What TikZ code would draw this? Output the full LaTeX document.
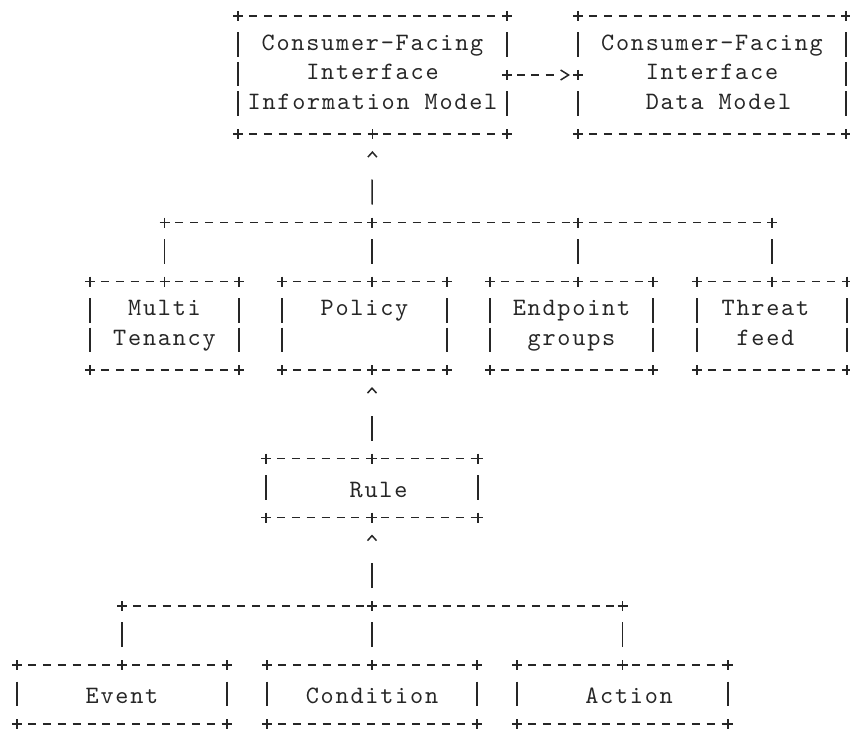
\documentclass[tikz,border=0pt]{standalone}
\usepackage{fontspec}
\usetikzlibrary{arrows.meta}
\newfontfamily\asciifont{lmmono10-regular.otf}[LetterSpace=7.1]
\newcommand{\rowstrut}{\rule[-5.75pt]{0pt}{29.5pt}}

\begin{document}
\begin{tikzpicture}[
    x=1pt, y=-1pt,
    box/.style={rectangle, inner sep=0pt, outer sep=0pt, align=center, text=black!85,
      font=\asciifont\fontsize{25pt}{29.5pt}\selectfont,
      execute at begin node=\rowstrut, execute at end node=\rowstrut},
    hdash/.style={draw=black!85, line width=1.5pt, dash pattern=on 8pt off 6.9pt, dash phase=4pt},
    vdash/.style={draw=black!85, line width=1.5pt, dash pattern=on 24.5pt off 5pt, dash phase=24.5pt,
      shorten <=11.5pt, shorten >=13.5pt},
    riser/.style={draw=black!85, line width=1.5pt, dash pattern=on 25pt off 80pt, dash phase=87pt},
    caret/.style={-{Straight Barb[length=5pt, width=9pt]}, shorten >=17pt},
    link/.style={draw=black!85, line width=1.5pt,
      dash pattern=on 8pt off 6.2pt on 8pt off 6.2pt on 8pt off 40pt, dash phase=66.2pt,
      -{Straight Barb[length=8pt, width=10pt]}, shorten >=8pt},
    plus/.pic={\draw[black!85, line width=1.5pt] (-5,0) -- (5,0) (0,-5) -- (0,5);}
]
\useasboundingbox (0,0) rectangle (850,733);

% Nodes
\node[box, minimum width=269pt, minimum height=118pt] (cfiim) at (372.5,75) {Consumer-Facing\\Interface\\Information Model};
\node[box, minimum width=268pt, minimum height=118pt] (cfidm) at (712,75) {Consumer-Facing\\Interface\\\hphantom{x}Data Model};
\node[box, minimum width=149pt, minimum height=88.5pt] (tenancy) at (164.5,325.75) {Multi\\Tenancy};
\node[box, minimum width=165pt, minimum height=88.5pt] (policy) at (364.5,325.75) {Policy\\\hphantom{x}};
\node[box, minimum width=163pt, minimum height=88.5pt] (endpoint) at (571.5,325.75) {Endpoint\\groups};
\node[box, minimum width=150pt, minimum height=88.5pt] (threat) at (772,325.75) {Threat\hphantom{x}\\feed\hphantom{x}};
\node[box, minimum width=212pt, minimum height=59pt] (rule) at (372,488) {\hphantom{x}Rule};
\node[box, minimum width=210pt, minimum height=59pt] (event) at (122,694.5) {Event};
\node[box, minimum width=210pt, minimum height=59pt] (condition) at (372,694.5) {Condition};
\node[box, minimum width=211pt, minimum height=59pt] (action) at (622.5,694.5) {\hphantom{x}Action};

% Bus junctions
\coordinate (bus1) at (372,222.5);
\coordinate (bus1w) at (tenancy.north |- bus1);
\coordinate (bus1c) at (578,222.5);
\coordinate (bus1e) at (threat.north |- bus1);
\coordinate (poltop) at (policy.north -| bus1);
\coordinate (polbot) at (policy.south -| bus1);
\coordinate (eptop) at (endpoint.north -| bus1c);
\coordinate (bus2) at (372,606);
\coordinate (bus2w) at (event.north |- bus2);
\coordinate (bus2e) at (action.north |- bus2);

% Box borders
\foreach \b in {cfiim,cfidm,tenancy,policy,endpoint,threat,rule,event,condition,action}{
  \draw[hdash] (\b.north west) -- (\b.north east);
  \draw[hdash] (\b.south west) -- (\b.south east);
}
\foreach \p/\q in {cfiim.north west/cfiim.south west, cfiim.north east/cfiim.east, cfiim.east/cfiim.south east,
    cfidm.north west/cfidm.west, cfidm.west/cfidm.south west, cfidm.north east/cfidm.south east,
    tenancy.north west/tenancy.south west, tenancy.north east/tenancy.south east,
    policy.north west/policy.south west, policy.north east/policy.south east,
    endpoint.north west/endpoint.south west, endpoint.north east/endpoint.south east,
    threat.north west/threat.south west, threat.north east/threat.south east,
    rule.north west/rule.south west, rule.north east/rule.south east,
    event.north west/event.south west, event.north east/event.south east,
    condition.north west/condition.south west, condition.north east/condition.south east,
    action.north west/action.south west, action.north east/action.south east}
  \draw[vdash] (\p) -- (\q);

% Arrows
\draw[link] (cfiim.east) -- (cfidm.west);
\draw[riser, caret] (bus1) -- (cfiim.south);
\draw[riser, caret] (rule.north) -- (polbot);
\draw[riser, caret] (bus2) -- (rule.south);

\draw[riser] (tenancy.north) -- (bus1w);
\draw[riser] (poltop) -- (bus1);
\draw[riser] (eptop) -- (bus1c);
\draw[riser] (threat.north) -- (bus1e);
\draw[riser] (event.north) -- (bus2w);
\draw[riser] (condition.north) -- (bus2);
\draw[riser] (action.north) -- (bus2e);

\foreach \a/\b in {bus1w/bus1, bus1/bus1c, bus1c/bus1e, bus2w/bus2, bus2/bus2e}
  \draw[hdash] (\a) -- (\b);

% Junction marks
\foreach \b in {cfiim,cfidm,tenancy,policy,endpoint,threat,rule,event,condition,action}
  \foreach \a in {north west,north east,south west,south east}
    \pic at (\b.\a) {plus};
\foreach \p in {cfiim.south, cfiim.east, cfidm.west, bus1w, bus1, bus1c, bus1e, poltop, polbot, eptop,
    tenancy.north, threat.north, rule.north, rule.south, bus2w, bus2, bus2e,
    event.north, condition.north, action.north}
  \pic at (\p) {plus};

\end{tikzpicture}
\end{document}
